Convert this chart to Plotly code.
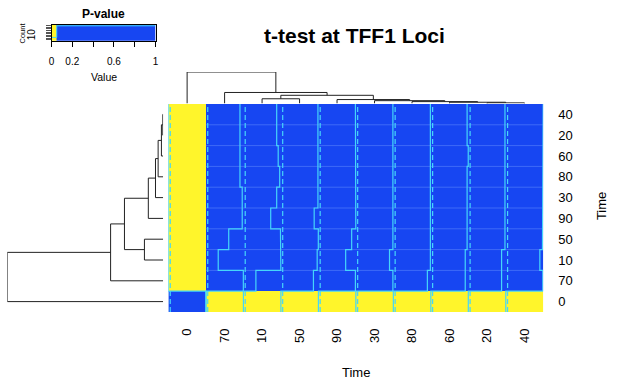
import numpy as np
import plotly.graph_objects as go

W, H = 617, 382

col_labels = ["0", "70", "10", "50", "90", "30", "80", "60", "20", "40"]
row_labels = ["40", "20", "60", "80", "30", "90", "50", "10", "70", "0"]  # top -> bottom

# p-values per column (rows listed top -> bottom, same order as row_labels)
pv_col_0 = [0.004, 0.003, 0.005, 0.004, 0.006, 0.003, 0.002, 0.001, 0.002, 1.00]
pv_col_70 = [0.91, 0.91, 0.91, 0.91, 0.97, 0.97, 0.61, 0.33, 1.00, 0.002]
pv_col_10 = [0.89, 0.89, 0.93, 0.97, 0.89, 0.73, 0.99, 1.00, 0.335, 0.002]
pv_col_50 = [0.99, 0.99, 0.99, 0.99, 0.99, 0.89, 1.00, 0.97, 0.87, 0.002]
pv_col_90 = [0.99, 0.99, 0.99, 0.99, 0.99, 1.00, 0.89, 0.73, 0.99, 0.003]
pv_col_30 = [0.99, 0.99, 0.99, 0.99, 1.00, 0.99, 0.99, 0.90, 0.99, 0.002]
pv_col_80 = [0.99, 0.99, 0.99, 1.00, 0.99, 0.99, 0.99, 0.99, 0.91, 0.002]
pv_col_60 = [0.97, 0.97, 1.00, 0.97, 0.97, 0.97, 0.97, 0.92, 0.92, 0.002]
pv_col_20 = [0.98, 1.00, 0.98, 0.98, 0.98, 0.98, 0.98, 0.89, 0.89, 0.002]
pv_col_40 = [1.00, 0.98, 0.98, 0.98, 0.98, 0.98, 0.98, 0.91, 0.99, 0.002]

breaks = [0.0, 0.05, 1.0]
key_ticks = [0, 0.2, 0.4, 0.6, 0.8, 1]
key_ticktext = ["0", "0.2", "", "0.6", "", "1"]

# column dendrogram merges: (a, b, height)
col_merges = [
    ("20", "40", 0.02),
    ("60", "m0", 0.04),
    ("80", "m1", 0.06),
    ("30", "m2", 0.09),
    ("90", "m3", 0.125),
    ("10", "50", 0.15),
    ("m5", "m4", 0.26),
    ("70", "m6", 0.35),
    ("0", "m7", 1.0),
]
# row dendrogram merges
row_merges = [
    ("40", "20", 0.002),
    ("m0", "60", 0.011),
    ("m1", "80", 0.032),
    ("m2", "30", 0.049),
    ("m3", "90", 0.095),
    ("50", "10", 0.12),
    ("m4", "m5", 0.248),
    ("m6", "70", 0.337),
    ("m7", "0", 1.0),
]

YELLOW = "#FFF52B"
BLUE = "#1746F2"
CYAN = "#45D6FA"
FONT = "Liberation Sans, Arial, sans-serif"

def px(x):
    return x / W

def py(y):
    return 1 - y / H

z = np.array([pv_col_0, pv_col_70, pv_col_10, pv_col_50, pv_col_90,
              pv_col_30, pv_col_80, pv_col_60, pv_col_20, pv_col_40]).T  # rows top->bottom
z_plot = z[::-1]  # bottom-first
nrow, ncol = z_plot.shape
row_bottom_first = row_labels[::-1]

fig = go.Figure()

cs = [[0, YELLOW], [breaks[1], YELLOW], [breaks[1], BLUE], [1, BLUE]]
fig.add_trace(go.Heatmap(z=z_plot, x=list(range(ncol)), y=list(range(nrow)),
                         colorscale=cs, zmin=breaks[0], zmax=breaks[-1],
                         showscale=False, xaxis="x", yaxis="y", hoverinfo="skip"))

# faint row seams
sx, sy = [], []
for k in range(nrow - 2):
    sx += [0.5, ncol - 0.5, None]
    sy += [k + 1.5, k + 1.5, None]
fig.add_trace(go.Scatter(x=sx, y=sy, mode="lines", line=dict(color="rgba(110,150,255,0.45)", width=1),
                         xaxis="x", yaxis="y", showlegend=False, hoverinfo="skip"))

# dashed vlines at median of breaks
vline = float(np.median(breaks))
for j in range(ncol):
    fig.add_trace(go.Scatter(x=[j - 0.5 + vline] * 2, y=[-0.5, nrow - 0.5], mode="lines",
                             line=dict(color=CYAN, width=1.2, dash="5px,3px"),
                             xaxis="x", yaxis="y", showlegend=False, hoverinfo="skip"))

# column traces (step lines)
for j in range(ncol):
    xs, ys = [], []
    for k in range(nrow):
        xv = j - 0.5 + z_plot[k, j]
        xs += [xv, xv]
        ys += [k - 0.5, k + 0.5]
    fig.add_trace(go.Scatter(x=xs, y=ys, mode="lines", line=dict(color=CYAN, width=1.2),
                             xaxis="x", yaxis="y", showlegend=False, hoverinfo="skip", cliponaxis=False))

def dendro(merges, leaf_pos):
    pos = dict(leaf_pos)
    hgt = {k: 0.0 for k in leaf_pos}
    P, Hh = [], []
    for i, (a, b, h) in enumerate(merges):
        pa, pb = pos[a], pos[b]
        P += [pa, pa, pb, pb, None]
        Hh += [hgt[a], h, h, hgt[b], None]
        pos["m%d" % i] = (pa + pb) / 2
        hgt["m%d" % i] = h
    return P, Hh

cp, ch = dendro(col_merges, {lab: i for i, lab in enumerate(col_labels)})
fig.add_trace(go.Scatter(x=cp, y=ch, mode="lines", line=dict(color="#222", width=1),
                         xaxis="x2", yaxis="y2", showlegend=False, hoverinfo="skip", cliponaxis=False))
rp, rh = dendro(row_merges, {lab: i for i, lab in enumerate(row_bottom_first)})
fig.add_trace(go.Scatter(x=rh, y=rp, mode="lines", line=dict(color="#222", width=1),
                         xaxis="x3", yaxis="y3", showlegend=False, hoverinfo="skip", cliponaxis=False))

# colour key
fig.add_trace(go.Heatmap(z=[[(breaks[0] + breaks[1]) / 2, (breaks[1] + breaks[2]) / 2]], x=breaks, y=[0, 1],
                         colorscale=cs, zmin=breaks[0], zmax=breaks[-1], showscale=False,
                         xaxis="x4", yaxis="y4", hoverinfo="skip"))
counts, _ = np.histogram(z.ravel(), bins=breaks)
hy = counts / counts.max() * 0.95
hx = [breaks[0], breaks[1], breaks[1], breaks[2]]
hyy = [hy[0], hy[0], hy[1], hy[1]]
fig.add_trace(go.Scatter(x=hx, y=hyy, mode="lines", line=dict(color=CYAN, width=1),
                         xaxis="x4", yaxis="y4", showlegend=False, hoverinfo="skip"))

hm_x = [px(167), px(545.5)]
hm_y = [py(312), py(104)]
hide = dict(showgrid=False, zeroline=False, showticklabels=False, ticks="", showline=False)

fig.update_layout(
    width=W, height=H, margin=dict(l=0, r=0, t=0, b=0),
    paper_bgcolor="white", plot_bgcolor="white",
    font=dict(family=FONT, color="black"),
    showlegend=False,
    xaxis=dict(domain=hm_x, range=[-0.5, ncol - 0.5], tickvals=list(range(ncol)), ticktext=col_labels,
               tickangle=-90, ticks="", showgrid=False, zeroline=False, tickfont=dict(size=13),
               ticklabelstandoff=13, anchor="y"),
    yaxis=dict(domain=hm_y, range=[-0.5, nrow - 0.5], tickvals=list(range(nrow)), ticktext=row_bottom_first,
               side="right", ticks="", showgrid=False, zeroline=False, tickfont=dict(size=13),
               ticklabelstandoff=14, anchor="x"),
    xaxis2=dict(domain=hm_x, range=[-0.5, ncol - 0.5], anchor="y2", **hide),
    yaxis2=dict(domain=[py(103.5), py(72)], range=[0, 1], anchor="x2", **hide),
    xaxis3=dict(domain=[px(4.3), px(161.7)], range=[1, 0], anchor="y3", **hide),
    yaxis3=dict(domain=hm_y, range=[-0.5, nrow - 0.5], anchor="x3", **hide),
    xaxis4=dict(domain=[px(49), px(154)], range=[0, 1], anchor="y4", tickvals=key_ticks, ticktext=key_ticktext,
                ticks="outside", ticklen=5, tickcolor="black", showline=True, mirror=True, linecolor="black",
                linewidth=1, showgrid=False, zeroline=False, tickfont=dict(size=10), ticklabelstandoff=6),
    yaxis4=dict(domain=[py(40.7), py(25)], range=[0, 1], anchor="x4",
                tickvals=[0.05, 0.15, 0.25, 0.35, 0.45, 0.55, 0.65, 0.75, 0.85, 0.95],
                ticks="outside", ticklen=5, tickcolor="#555", showticklabels=False,
                showline=True, mirror=True, linecolor="black", linewidth=1, showgrid=False, zeroline=False),
)

ann = [
    dict(text="<b>t-test at TFF1 Loci</b>", x=px(355), y=py(36), font=dict(size=21)),
    dict(text="Time", x=px(356), y=py(372), font=dict(size=13)),
    dict(text="Time", x=px(605), y=py(206), font=dict(size=13), textangle=-90),
    dict(text="<b>P-value</b>", x=px(101.5), y=py(14), font=dict(size=12)),
    dict(text="Value", x=px(101.5), y=py(77), font=dict(size=10.5)),
    dict(text="Count", x=px(20.7), y=py(33), font=dict(size=7.5), textangle=-90),
    dict(text="10", x=px(28.5), y=py(34), font=dict(size=10), textangle=-90),
]
for a in ann:
    fig.add_annotation(xref="paper", yref="paper", showarrow=False, xanchor="center", yanchor="middle", **a)

fig.write_html("out.html", config={"displayModeBar": False},
               post_script="document.body.style.margin='0';document.body.style.overflow='hidden';")
